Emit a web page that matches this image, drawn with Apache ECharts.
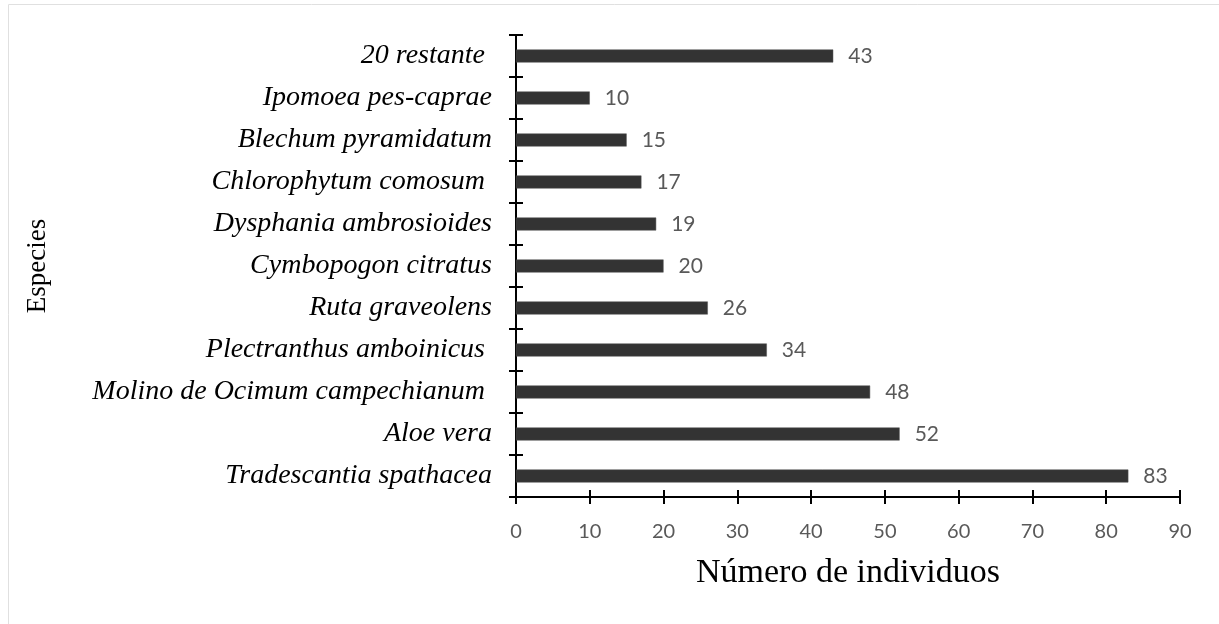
<!DOCTYPE html>
<html>
<head>
<meta charset="utf-8">
<script src="https://cdn.jsdelivr.net/npm/echarts@6/dist/echarts.min.js"></script>
<style>
  html, body { margin: 0; padding: 0; background: #fff; }
  #chart_especies { width: 1219px; height: 624px; }
</style>
</head>
<body>
<div id="chart_especies"></div>
<script>
// data (bottom to top, as drawn)
var especies = ['Tradescantia spathacea', 'Aloe vera', 'Molino de Ocimum campechianum ', 'Plectranthus amboinicus ',
	'Ruta graveolens', 'Cymbopogon citratus', 'Dysphania ambrosioides', 'Chlorophytum comosum ',
	'Blechum pyramidatum', 'Ipomoea pes-caprae', '20 restante '];
var individuos = [83, 52, 48, 34, 26, 20, 19, 17, 15, 10, 43];
var xTicks = [0, 10, 20, 30, 40, 50, 60, 70, 80, 90];

var serif = '"Liberation Serif", "Times New Roman", serif';
var sans = 'Lato, "Open Sans", sans-serif';

var axisBlack = { show: true, lineStyle: { color: '#000', width: 2 } };

var chart_especies = echarts.init(document.getElementById('chart_especies'));

var option_especies = {
	animation: false,
	grid: { left: 516, right: 39, top: 35, bottom: 127 },
	graphic: [{
		type: 'rect',
		shape: { x: 8.5, y: 4.5, width: 1230, height: 640 },
		style: { fill: 'none', stroke: '#e0e0e0', lineWidth: 1 },
		silent: true
	}],
	xAxis: [
		{
			type: 'value',
			position: 'bottom',
			min: xTicks[0],
			max: xTicks[xTicks.length - 1],
			interval: 10,
			axisLine: axisBlack,
			axisTick: { show: true, length: 7, lineStyle: { color: '#000', width: 2 } },
			splitLine: { show: false },
			axisLabel: { color: '#595959', fontFamily: sans, fontSize: 20, margin: 25 },
			name: 'Número de individuos',
			nameLocation: 'middle',
			nameGap: 59,
			nameTextStyle: { color: '#000', fontFamily: serif, fontSize: 34 }
		},
		{
			// second axis only to get ticks crossing the line
			type: 'value',
			position: 'bottom',
			offset: 0,
			min: xTicks[0],
			max: xTicks[xTicks.length - 1],
			interval: 10,
			axisLine: axisBlack,
			axisTick: { show: true, inside: true, length: 7, lineStyle: { color: '#000', width: 2 } },
			splitLine: { show: false },
			axisLabel: { show: false }
		}
	],
	yAxis: [
		{
			type: 'category',
			position: 'left',
			data: especies,
			axisLine: axisBlack,
			axisTick: { show: true, length: 7, lineStyle: { color: '#000', width: 2 } },
			axisLabel: { color: '#000', fontFamily: serif, fontStyle: 'italic', fontSize: 28, margin: 24 },
			name: 'Especies',
			nameLocation: 'middle',
			nameGap: 465,
			nameTextStyle: { color: '#000', fontFamily: serif, fontSize: 27 }
		},
		{
			type: 'category',
			position: 'left',
			offset: 0,
			data: especies,
			axisLine: axisBlack,
			axisTick: { show: true, inside: true, length: 7, lineStyle: { color: '#000', width: 2 } },
			axisLabel: { show: false }
		}
	],
	series: [
		{
			name: 'Número de individuos',
			type: 'bar',
			xAxisIndex: 0,
			yAxisIndex: 0,
			barWidth: 13,
			data: individuos,
			itemStyle: { color: '#333333', borderColor: '#555', borderWidth: 0.5 },
			label: {
				show: true,
				position: 'right',
				distance: 15,
				color: '#595959',
				fontFamily: sans,
				fontSize: 21
			}
		}
	]
};

chart_especies.setOption(option_especies, true);
</script>
</body>
</html>
